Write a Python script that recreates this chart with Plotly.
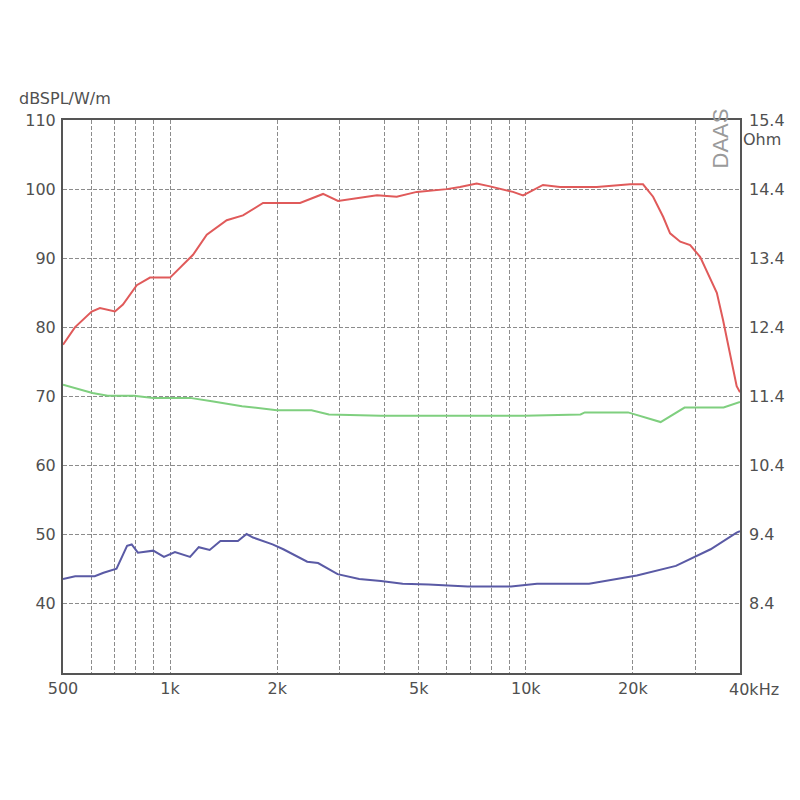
import plotly.graph_objects as go

# SPL response (dB SPL / W / m)
spl_freq = [500, 540, 602, 635, 700, 737, 806, 878, 1000, 1160, 1268, 1443, 1603, 1825,
            2319, 2692, 2965, 3420, 3817, 4336, 4936, 5994, 6530, 7276, 7932, 9200, 9824,
            11175, 12473, 15830, 19640, 21350, 22790, 24320, 25440, 27170, 28970, 30900,
            34430, 35830, 37500, 39150, 40000]
spl_db = [77.5, 80.0, 82.3, 82.8, 82.3, 83.3, 86.1, 87.2, 87.2, 90.5, 93.4, 95.5, 96.2, 98.0,
          98.0, 99.3, 98.3, 98.7, 99.1, 98.9, 99.6, 100.0, 100.3, 100.8, 100.4, 99.6, 99.1,
          100.6, 100.3, 100.3, 100.7, 100.7, 98.9, 96.0, 93.6, 92.4, 91.9, 90.2,
          85.0, 81.1, 76.3, 71.5, 70.6]

# Green curve (dB scale)
grn_freq = [500, 605, 668, 790, 897, 1138, 1310, 1593, 1996, 2498, 2796, 3915, 9886,
            14246, 14645, 19385, 23930, 27940, 35970, 39130, 40000]
grn_db = [71.7, 70.5, 70.1, 70.1, 69.8, 69.8, 69.3, 68.6, 68.0, 68.0, 67.4, 67.2, 67.2,
          67.4, 67.7, 67.7, 66.3, 68.4, 68.4, 69.1, 69.2]

# Impedance (Ohm)
imp_freq = [500, 541, 614, 650, 707, 757, 780, 812, 897, 961, 1032, 1138, 1204, 1292,
            1385, 1551, 1641, 1711, 1941, 2081, 2430, 2606, 2957, 3401, 3915, 4506, 5332,
            6866, 9090, 10750, 15058, 20523, 26413, 33070, 39130, 40000]
imp_ohm = [8.76, 8.80, 8.80, 8.85, 8.91, 9.24, 9.26, 9.14, 9.17, 9.08, 9.15, 9.08, 9.22, 9.18,
           9.31, 9.31, 9.41, 9.36, 9.26, 9.19, 9.01, 8.99, 8.83, 8.76, 8.73, 8.69, 8.68,
           8.65, 8.65, 8.69, 8.69, 8.81, 8.95, 9.19, 9.43, 9.45]

x_label_vals = [500, 1000, 2000, 5000, 10000, 20000, 40000]
x_label_text = ["500", "1k", "2k", "5k", "10k", "20k", ""]
x_minor_vals = [600, 700, 800, 900, 3000, 4000, 6000, 7000, 8000, 9000, 30000]
y_left_vals = [40, 50, 60, 70, 80, 90, 100, 110]
y_right_vals = [8.4, 9.4, 10.4, 11.4, 12.4, 13.4, 14.4, 15.4]

FONT = "DejaVu Sans, Verdana, sans-serif"
TXT = "#505050"
GRID = "#8c8c8c"
FRAME = "#555555"
DASH = "4px,2px"

fig = go.Figure()
fig.add_trace(go.Scatter(x=grn_freq, y=grn_db, mode="lines",
                         line=dict(color="#7fcf7f", width=2), showlegend=False))
fig.add_trace(go.Scatter(x=imp_freq, y=imp_ohm, mode="lines", yaxis="y2",
                         line=dict(color="#5a5aa5", width=2), showlegend=False))
fig.add_trace(go.Scatter(x=spl_freq, y=spl_db, mode="lines",
                         line=dict(color="#e05a5a", width=2), showlegend=False))

fig.update_layout(
    width=800, height=800,
    margin=dict(l=55, r=68, t=112, b=135),
    paper_bgcolor="white", plot_bgcolor="white",
    font=dict(family=FONT, size=16, color=TXT),
    xaxis=dict(type="log", range=[2.69897, 4.60206],
               tickmode="array", tickvals=x_label_vals, ticktext=x_label_text,
               showgrid=True, gridcolor=GRID, griddash=DASH, gridwidth=1,
               minor=dict(tickmode="array", tickvals=x_minor_vals, showgrid=True,
                          gridcolor=GRID, griddash=DASH, gridwidth=1),
               showline=True, linecolor=FRAME, linewidth=2, mirror=True,
               ticks="", zeroline=False, tickfont=dict(size=16, color=TXT)),
    yaxis=dict(range=[30, 110], tickmode="array", tickvals=y_left_vals,
               showgrid=True, gridcolor=GRID, griddash=DASH, gridwidth=1,
               showline=True, linecolor=FRAME, linewidth=2, mirror=True,
               ticks="", zeroline=False, tickfont=dict(size=16, color=TXT),
               ticklabelstandoff=2),
    yaxis2=dict(range=[7.4, 15.4], overlaying="y", side="right",
                tickmode="array", tickvals=y_right_vals,
                ticktext=[f"{v:.1f}" for v in y_right_vals],
                showgrid=False, zeroline=False, ticks="",
                tickfont=dict(size=16, color=TXT), ticklabelstandoff=8),
)

fig.add_annotation(text="dBSPL/W/m", xref="paper", yref="paper", x=0, y=1,
                   xanchor="center", yanchor="bottom", xshift=2, yshift=10,
                   showarrow=False, font=dict(size=16, color=TXT, family=FONT))
fig.add_annotation(text="Ohm", xref="paper", yref="paper", x=1, y=1,
                   xanchor="left", yanchor="top", xshift=1, yshift=-8,
                   showarrow=False, font=dict(size=16, color=TXT, family=FONT))
fig.add_annotation(text="40kHz", xref="paper", yref="paper", x=1, y=0,
                   xanchor="left", yanchor="top", xshift=-13, yshift=-5,
                   showarrow=False, font=dict(size=16, color=TXT, family=FONT))
fig.add_annotation(text="DAAS", xref="paper", yref="paper", x=1, y=1,
                   xanchor="right", yanchor="top", xshift=-6, yshift=13,
                   textangle=-90, showarrow=False,
                   font=dict(size=22, color="#9a9a9a",
                             family="Liberation Sans Narrow, Liberation Sans, Arial, sans-serif"))

fig.write_html("out.html")
